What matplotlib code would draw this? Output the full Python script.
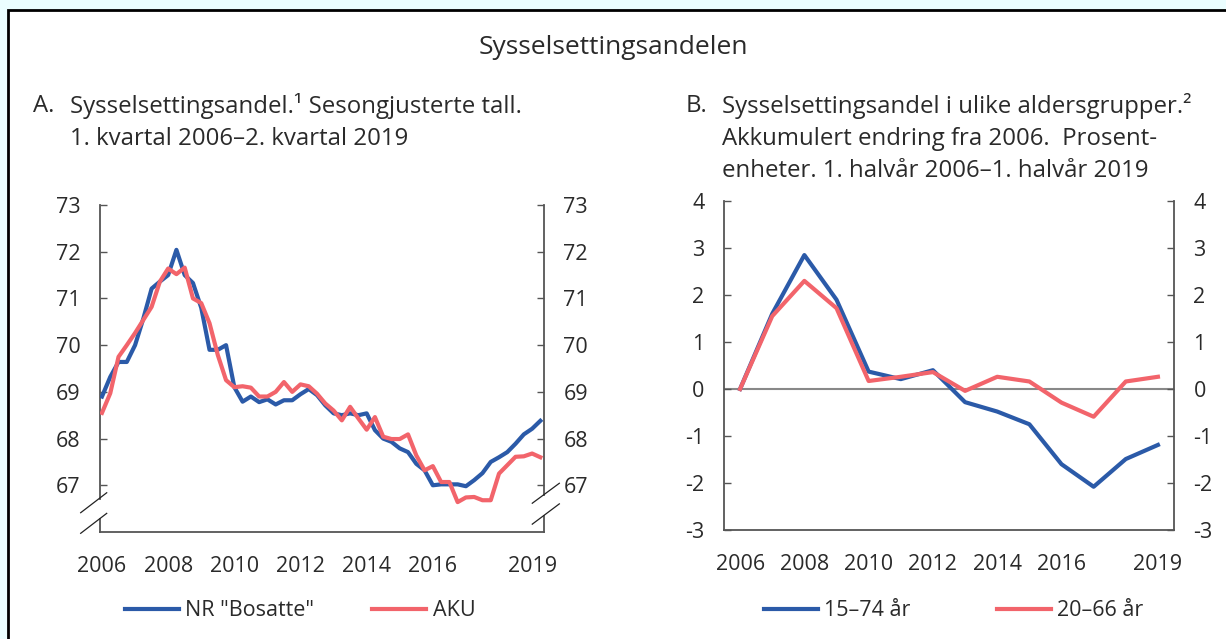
import numpy as np
import matplotlib.pyplot as plt
from matplotlib.lines import Line2D
from matplotlib.patches import Rectangle

plt.rcParams['font.family'] = ['Open Sans', 'DejaVu Sans']

W, H = 1226, 639
BLUE = '#2b5aa8'
RED = '#f2646b'
TXT = '#2a2a2a'
AX = '#555555'
FS = 15.5      # ticks / legend
FS_SUB = 17.3  # panel titles
FS_TITLE = 19

# A: 1. kvartal 2006 - 2. kvartal 2019
nr_bosatte = [68.90, 69.32, 69.64, 69.64, 70.00, 70.57, 71.21, 71.36, 71.50, 72.04,
              71.50, 71.33, 70.80, 69.90, 69.90, 70.00, 69.10, 68.79, 68.90, 68.78,
              68.84, 68.73, 68.82, 68.82, 68.95, 69.06, 68.93, 68.71, 68.54, 68.50,
              68.54, 68.50, 68.54, 68.18, 68.00, 67.93, 67.79, 67.71, 67.46, 67.32,
              67.00, 67.02, 67.02, 67.02, 66.98, 67.11, 67.26, 67.50, 67.60, 67.71,
              67.89, 68.09, 68.21, 68.38]
aku = [68.55, 68.97, 69.75, 70.00, 70.26, 70.54, 70.82, 71.36, 71.64, 71.52,
       71.66, 71.00, 70.90, 70.47, 69.79, 69.25, 69.10, 69.12, 69.09, 68.90,
       68.90, 69.00, 69.21, 69.00, 69.16, 69.12, 68.96, 68.75, 68.60, 68.39,
       68.68, 68.43, 68.19, 68.46, 68.04, 67.99, 67.99, 68.09, 67.64, 67.32,
       67.41, 67.07, 67.07, 66.64, 66.74, 66.75, 66.68, 66.68, 67.25, 67.43,
       67.61, 67.62, 67.68, 67.60]
quarter_x = 2006 + np.arange(len(nr_bosatte)) / 4

# B: akkumulert endring fra 2006, prosentenheter
years_b = list(range(2006, 2020))
age_15_74 = [0, 1.60, 2.85, 1.90, 0.37, 0.21, 0.40, -0.28, -0.48, -0.75, -1.60, -2.08, -1.49, -1.19]
age_20_66 = [0, 1.55, 2.30, 1.72, 0.17, 0.26, 0.36, -0.04, 0.26, 0.16, -0.29, -0.59, 0.16, 0.26]

year_ticks = [2006, 2008, 2010, 2012, 2014, 2016, 2019]
ticks_a = [73, 72, 71, 70, 69, 68, 67]
ticks_b = [4, 3, 2, 1, 0, -1, -2, -3]


def box(left, top, right, bottom):
    return [left / W, 1 - bottom / H, (right - left) / W, (bottom - top) / H]


fig = plt.figure(figsize=(W / 100, H / 100), dpi=100, facecolor='#ebfeff')
fig.patches.append(Rectangle((8 / W, -0.1), 1.2, 1.1 - 10 / H, transform=fig.transFigure,
                             facecolor='white', edgecolor='black', lw=2, zorder=-10))

fig.text(613 / W, 1 - 48 / H, 'Sysselsettingsandelen', ha='center', va='center',
         fontsize=FS_TITLE, color=TXT)
fig.text(33 / W, 1 - 106 / H, 'A.', ha='left', va='center', fontsize=FS_SUB, color=TXT)
fig.text(70 / W, 1 - 106 / H, 'Sysselsettingsandel.¹ Sesongjusterte tall.', ha='left',
         va='center', fontsize=FS_SUB, color=TXT)
fig.text(70 / W, 1 - 139 / H, '1. kvartal 2006–2. kvartal 2019', ha='left',
         va='center', fontsize=FS_SUB, color=TXT)
fig.text(686 / W, 1 - 106 / H, 'B.', ha='left', va='center', fontsize=FS_SUB, color=TXT)
fig.text(722 / W, 1 - 106 / H, 'Sysselsettingsandel i ulike aldersgrupper.²', ha='left',
         va='center', fontsize=FS_SUB, color=TXT)
fig.text(722 / W, 1 - 139 / H, 'Akkumulert endring fra 2006.  Prosent-', ha='left',
         va='center', fontsize=FS_SUB, color=TXT)
fig.text(722 / W, 1 - 171 / H, 'enheter. 1. halvår 2006–1. halvår 2019', ha='left',
         va='center', fontsize=FS_SUB, color=TXT)


def style(ax, yticks):
    ax.set_facecolor('none')
    ax.spines['top'].set_visible(False)
    for s in ('left', 'right', 'bottom'):
        ax.spines[s].set_color(AX)
        ax.spines[s].set_linewidth(1.3)
    ax.set_yticks(yticks)
    ax.set_yticklabels([str(t) for t in yticks])
    ax.tick_params(axis='y', left=True, right=True, labelleft=True, labelright=True,
                   direction='in', length=5, width=1, color=AX, pad=14,
                   labelsize=FS, labelcolor=TXT)
    ax.set_xticks(year_ticks)
    ax.set_xticklabels([str(t) for t in year_ticks])
    ax.tick_params(axis='x', length=0, pad=17, labelsize=FS, labelcolor=TXT)


# Panel A
ax1 = fig.add_axes(box(100, 205, 544, 532))
ax1.plot(quarter_x, nr_bosatte, color=BLUE, lw=3, label='NR "Bosatte"', zorder=3)
ax1.plot(quarter_x, aku, color=RED, lw=3, label='AKU', zorder=3)
ax1.set_xlim(2005.94, 2019.36)
ax1.set_ylim(66, 73)
style(ax1, ticks_a)

# broken axis
ax1.spines['left'].set_visible(False)
ax1.spines['right'].set_visible(False)
for x, segs in ((0, [(1, 0.102), (0.039, 0)]), (1, [(1, 0.114), (0.050, 0)])):
    for y0, y1 in segs:
        ax1.add_line(Line2D([x, x], [y0, y1], transform=ax1.transAxes, color=AX,
                            lw=1.3, clip_on=False))
for xs, ys in (([-0.0435, 0.0151], [0.059, 0.120]), ([-0.0435, 0.0151], [-0.004, 0.057]),
               ([0.9736, 1.0345], [0.088, 0.149]), ([0.9736, 1.0345], [0.024, 0.086])):
    ax1.add_line(Line2D(xs, ys, transform=ax1.transAxes, color='#222222', lw=0.9,
                        clip_on=False))

# Panel B
ax2 = fig.add_axes(box(724, 201, 1174, 530))
ax2.axhline(0, color='#888888', lw=1.5, zorder=1)
ax2.plot(years_b, age_15_74, color=BLUE, lw=3, label='15–74 år', zorder=3)
ax2.plot(years_b, age_20_66, color=RED, lw=3, label='20–66 år', zorder=3)
ax2.set_xlim(2005.5, 2019.5)
ax2.set_ylim(-3, 4)
style(ax2, ticks_b)

leg_kw = dict(loc='center left', ncol=2, frameon=False, fontsize=FS, borderpad=0,
              borderaxespad=0, handlelength=2.5, handletextpad=0.3,
              labelcolor=TXT)
h, l = ax1.get_legend_handles_labels()
leg1 = fig.legend(h, l, bbox_to_anchor=(125 / W, 1 - 611 / H), columnspacing=2.7, **leg_kw)
h, l = ax2.get_legend_handles_labels()
leg2 = fig.legend(h, l, bbox_to_anchor=(764 / W, 1 - 611 / H), columnspacing=4.0, **leg_kw)
for leg in (leg1, leg2):
    for line in leg.get_lines():
        line.set_linewidth(3)

fig.savefig('out.png', dpi=100, facecolor=fig.get_facecolor())
